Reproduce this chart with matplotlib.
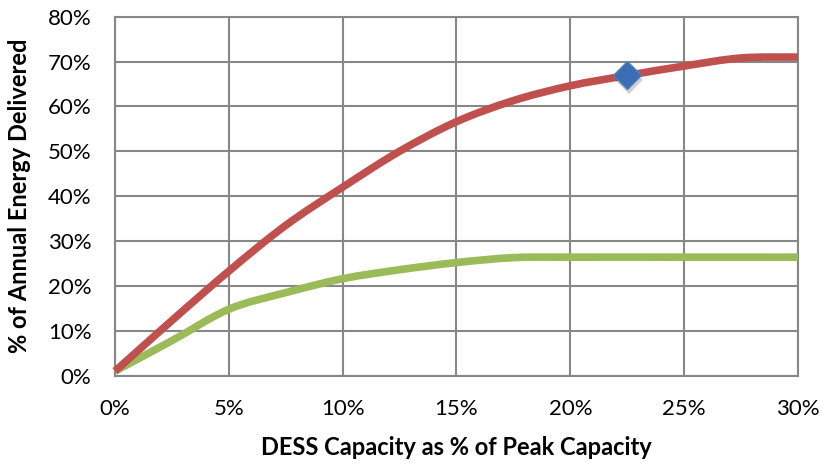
import matplotlib
matplotlib.use("Agg")
import matplotlib.pyplot as plt
from matplotlib.ticker import FuncFormatter
from matplotlib.path import Path
from matplotlib.patches import PathPatch
import matplotlib.transforms as mtransforms

# Data (x = DESS capacity %, y = % of annual energy delivered)
red_x = [0, 2.5, 5, 7.5, 10, 12.5, 15, 17.5, 20, 22.5, 25, 27.5, 30]
red_series = [1.0, 12.3, 23.3, 33.5, 42.0, 50.0, 56.6, 61.3, 64.6, 66.9, 69.0, 70.8, 71.0]
green_x = [0, 2.5, 5, 7.5, 10, 12.5, 15, 17.5, 20, 25, 30]
green_series = [1.0, 7.8, 14.8, 18.5, 21.6, 23.6, 25.2, 26.3, 26.4, 26.4, 26.4]
marker_x = [22.5]
marker_y = [66.9]

x_ticks = [0, 5, 10, 15, 20, 25, 30]
y_ticks = [0, 10, 20, 30, 40, 50, 60, 70, 80]

plt.rcParams['font.family'] = ['Lato', 'DejaVu Sans']


def smooth_path(xs, ys):
    """Excel-style smoothed line: Catmull-Rom segments as cubic Beziers."""
    verts = [(xs[0], ys[0])]
    codes = [Path.MOVETO]
    n = len(xs)
    for i in range(n - 1):
        x0, y0 = (xs[i - 1], ys[i - 1]) if i > 0 else (xs[i], ys[i])
        x1, y1 = xs[i], ys[i]
        x2, y2 = xs[i + 1], ys[i + 1]
        x3, y3 = (xs[i + 2], ys[i + 2]) if i + 2 < n else (xs[i + 1], ys[i + 1])
        c1 = (x1 + (x2 - x0) / 6.0, y1 + (y2 - y0) / 6.0)
        c2 = (x2 - (x3 - x1) / 6.0, y2 - (y3 - y1) / 6.0)
        verts += [c1, c2, (x2, y2)]
        codes += [Path.CURVE4] * 3
    return Path(verts, codes)


fig = plt.figure(figsize=(8.24, 4.69), dpi=100)
ax = fig.add_axes([0.1396, 0.1991, 0.8288, 0.7653])

grid_c = '#878787'
ax.set_xlim(0, 30)
ax.set_ylim(0, 80)
ax.set_xticks(x_ticks)
ax.set_yticks(y_ticks)
ax.grid(True, color=grid_c, linewidth=1.5)
ax.set_axisbelow(True)
for s in ax.spines.values():
    s.set_color(grid_c)
    s.set_linewidth(1.5)
ax.tick_params(length=0, labelsize=16, colors='black')
ax.tick_params(axis='x', pad=17)
ax.tick_params(axis='y', pad=17)
ax.xaxis.set_major_formatter(FuncFormatter(lambda v, p: f"{v:.0f}%"))
ax.yaxis.set_major_formatter(FuncFormatter(lambda v, p: f"{v:.0f}%"))

for xs, ys, col, z in [(green_x, green_series, '#9BBB59', 3),
                       (red_x, red_series, '#C0504D', 4)]:
    patch = PathPatch(smooth_path(xs, ys), facecolor='none', edgecolor=col,
                      linewidth=5.5, capstyle='butt', joinstyle='round',
                      transform=ax.transData, clip_on=False, zorder=z)
    ax.add_patch(patch)

# marker with a soft shadow
shadow = mtransforms.offset_copy(ax.transData, fig=fig, x=1.5, y=-3, units='points')
ax.plot(marker_x, marker_y, linestyle='none', marker='D', markersize=14,
        color='#000000', alpha=0.18, markeredgewidth=0, transform=shadow, zorder=5)
ax.plot(marker_x, marker_y, linestyle='none', marker='D', markersize=14,
        color='#3A6DB3', markeredgecolor='#4F81BD', markeredgewidth=1, zorder=6)

ax.set_xlabel('DESS Capacity as % of Peak Capacity', fontsize=17, fontweight='bold', labelpad=12)
ax.set_ylabel('% of Annual Energy Delivered', fontsize=17, fontweight='bold', labelpad=12)

fig.savefig('out.png', dpi=100)
